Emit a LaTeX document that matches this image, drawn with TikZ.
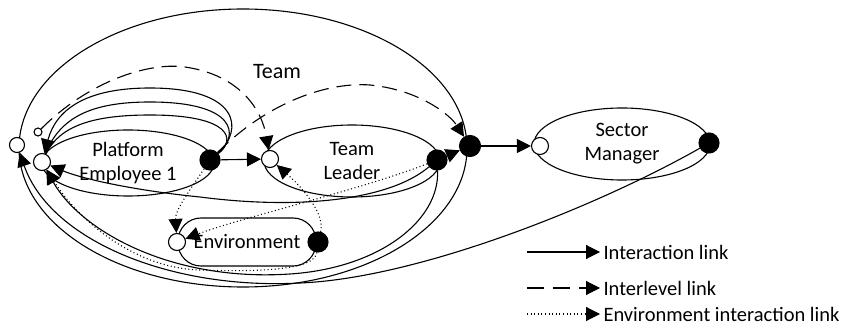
\documentclass[tikz,border=0pt]{standalone}
\usepackage{fontspec}
\setmainfont{Carlito}
\usetikzlibrary{arrows.meta,shapes.geometric}
\begin{document}
\begin{tikzpicture}[x=1pt,y=-1pt,
  every node/.style={font=\fontsize{20.5}{24}\selectfont},
  lw/.style={line width=1.1pt},
  tip/.style={-{Triangle[length=14pt,width=14pt]}},
  ilink/.style={lw,tip},
  dlink/.style={lw,tip,dash pattern=on 15pt off 8pt},
  elink/.style={lw,tip,dash pattern=on 1pt off 2.6pt},
  unit/.style={ellipse,draw,lw,inner sep=0pt,align=center},
  inport/.style={circle,draw,lw,fill=white,inner sep=0pt,minimum size=17pt},
  outport/.style={circle,draw,lw,fill=black,inner sep=0pt,minimum size=20pt}]
\useasboundingbox (0,0) rectangle (856,328);

% units
\node[unit,minimum width=448pt,minimum height=278pt] (team) at (243,148) {};
\node (teamlabel) at (277,72) {\fontsize{22}{26}\selectfont Team};
\node[unit,minimum width=172pt,minimum height=66pt] (pe) at (128,163) {Platform\\Employee 1};
\node[unit,minimum width=176pt,minimum height=72pt] (tl) at (352,161) {Team\\Leader};
\node[unit,minimum width=176pt,minimum height=72pt] (sm) at (622,144) {Sector\\Manager};
\node[draw,lw,rounded corners=23pt,minimum width=138pt,minimum height=48pt,inner sep=0pt] (env) at (247,242) {Environment};

% ports
\node[inport,minimum size=15pt] (teamin) at (17,145) {};
\node[outport,minimum size=21pt] (teamout) at (470,146) {};
\node[inport] (peinB) at (42,162) {};
\node[inport,minimum size=8pt] (peinC) at (38,132) {};
\node[outport] (peout) at (210,160) {};
\node[inport] (tlin) at (270,159) {};
\node[outport] (tlout) at (437,160) {};
\node[inport] (envin) at (177,242) {};
\node[outport] (envout) at (318,242) {};
\node[inport] (smin) at (540,146) {};
\node[outport] (smout) at (709,143) {};

% interaction links
\draw[ilink] (peout) -- (tlin);
\draw[ilink] (tlout) -- (teamout);
\draw[ilink] (teamout) -- (smin);
\draw[lw] (peout) .. controls (236,140) and (232,115) .. (150,115) .. controls (95,115) and (60,125) .. (peinB);
\draw[lw] (peout) .. controls (240,135) and (236,102) .. (150,102) .. controls (90,102) and (60,118) .. (peinB);
\draw[ilink] (peout) .. controls (244,130) and (240,88) .. (150,88) .. controls (85,88) and (56,110) .. (peinB);
\draw[ilink] (tlout) .. controls (390,200) and (300,210) .. (200,197) .. controls (130,190) and (80,178) .. (peinB);
\draw[ilink] (tlout) .. controls (440,220) and (380,268) .. (290,274) .. controls (170,282) and (80,230) .. (peinB);
\draw[ilink] (smout) .. controls (600,205) and (420,278) .. (300,283) .. controls (170,290) and (50,240) .. (teamin);

% interlevel links
\draw[dlink] (peout) .. controls (270,100) and (330,82) .. (370,85) .. controls (420,90) and (450,115) .. (teamout);
\draw[dlink] (peinC) .. controls (90,80) and (150,62) .. (185,67) .. controls (240,75) and (262,110) .. (tlin);

% environment links
\draw[elink] (peout) .. controls (190,190) and (175,210) .. (envin);
\draw[elink] (tlout) .. controls (360,190) and (240,218) .. (envin);
\draw[elink] (envout) .. controls (325,215) and (305,190) .. (tlin);
\draw[elink] (envout) .. controls (315,270) and (260,272) .. (200,270) .. controls (130,268) and (75,215) .. (peinB);

% legend
\coordinate (l1) at (527,252);
\coordinate (l2) at (527,288);
\coordinate (l3) at (527,314);
\node[anchor=west] (t1) at (600,252) {Interaction link};
\node[anchor=west] (t2) at (600,288) {Interlevel link};
\node[anchor=west] (t3) at (600,314) {Environment interaction link};
\draw[ilink] (l1) -- (t1.west);
\draw[lw,tip,dash pattern=on 17pt off 9pt] (l2) -- (t2.west);
\draw[elink] (l3) -- (t3.west);
\end{tikzpicture}
\end{document}
